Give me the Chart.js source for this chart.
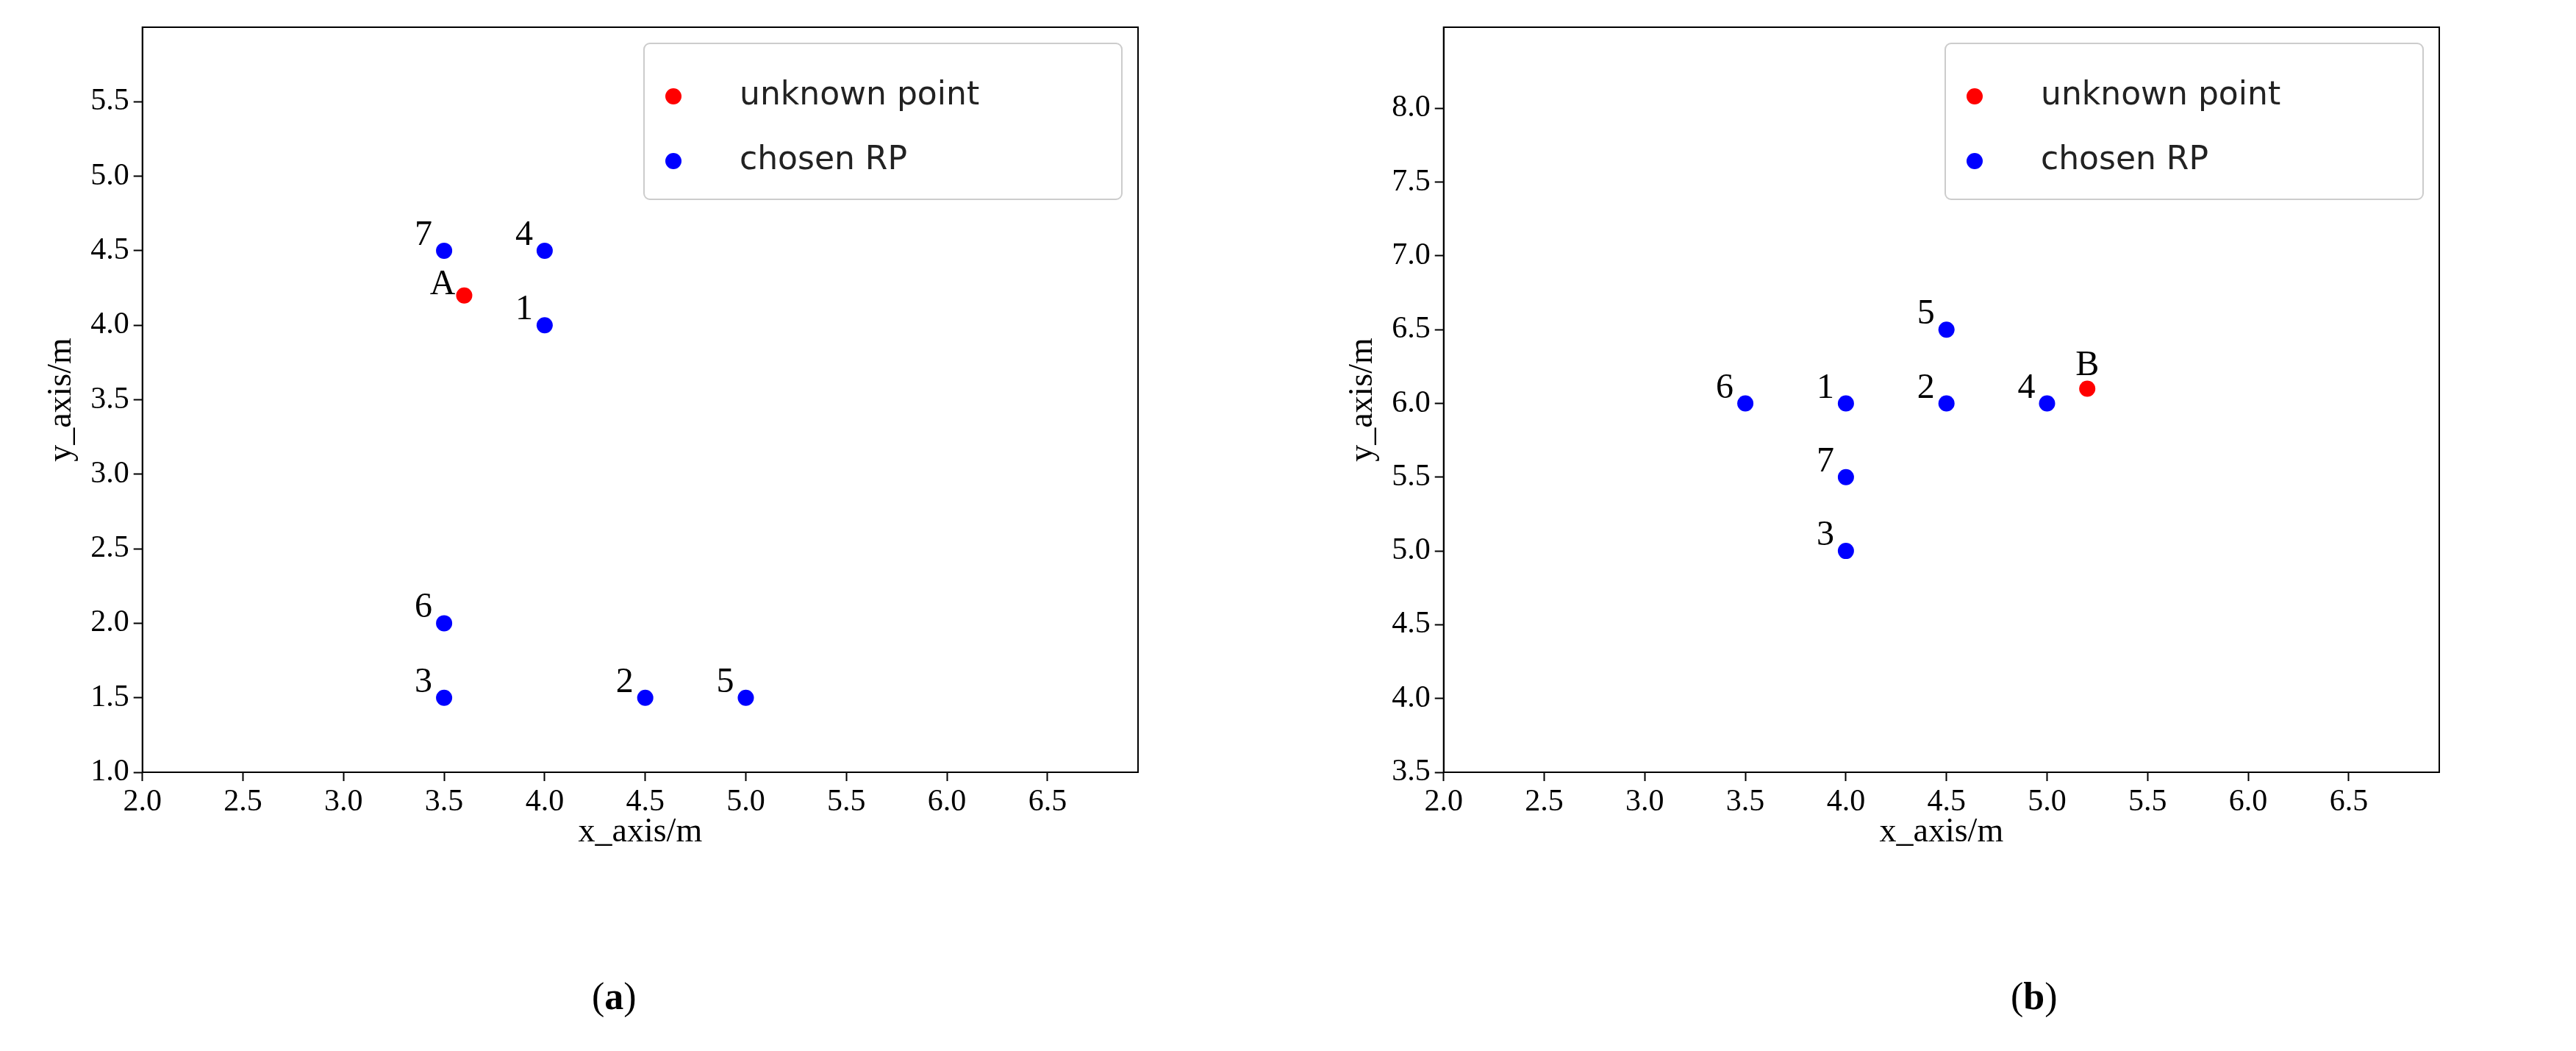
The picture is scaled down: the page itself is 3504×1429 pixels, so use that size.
<!DOCTYPE html>
<html>
<head>
<meta charset="utf-8">
<script src="https://cdn.jsdelivr.net/npm/chart.js@4.4.1/dist/chart.umd.min.js"></script>
<style>
  body { margin: 0; background: #fff; width: 3504px; height: 1429px; position: relative; overflow: hidden; }
  .panel { position: absolute; top: 0; width: 1600px; height: 1160px; }
  .cap { position: absolute; top: 1325px; font-family: "Liberation Serif", serif; font-size: 52px; color: #000; }
</style>
</head>
<body>
<div class="panel" style="left:0"><canvas id="chartA" width="1600" height="1160"></canvas></div>
<div class="panel" style="left:1770px"><canvas id="chartB" width="1600" height="1160"></canvas></div>
<div class="cap" style="left:805px">(<b>a</b>)</div>
<div class="cap" style="left:2735px">(<b>b</b>)</div>
<script>
// panel (a)
const rpAX = [4.0, 4.5, 3.5, 4.0, 5.0, 3.5, 3.5];
const rpAY = [4.0, 1.5, 1.5, 4.5, 1.5, 2.0, 4.5];
const rpALabels = ['1', '2', '3', '4', '5', '6', '7'];
const unkAX = [3.6];
const unkAY = [4.2];
const unkALabels = ['A'];
const yTicksA = [1.0, 1.5, 2.0, 2.5, 3.0, 3.5, 4.0, 4.5, 5.0, 5.5];

// panel (b)
const rpBX = [4.0, 4.5, 4.0, 5.0, 4.5, 3.5, 4.0];
const rpBY = [6.0, 6.0, 5.0, 6.0, 6.5, 6.0, 5.5];
const rpBLabels = ['1', '2', '3', '4', '5', '6', '7'];
const unkBX = [5.2];
const unkBY = [6.1];
const unkBLabels = ['B'];
const yTicksB = [3.5, 4.0, 4.5, 5.0, 5.5, 6.0, 6.5, 7.0, 7.5, 8.0];

const xTicks = [2.0, 2.5, 3.0, 3.5, 4.0, 4.5, 5.0, 5.5, 6.0, 6.5];
const legendNames = ['unknown point', 'chosen RP'];

const SERIF = '"Liberation Serif", "DejaVu Serif", serif';
const SANS = '"DejaVu Sans", sans-serif';

function pts(xs, ys) { return xs.map((x, i) => ({ x: x, y: ys[i] })); }

const pointLabels = {
  id: 'pointLabels',
  afterDatasetsDraw(chart) {
    const ctx = chart.ctx;
    ctx.save();
    ctx.font = '48px ' + SERIF;
    ctx.fillStyle = '#000';
    chart.data.datasets.forEach((ds, di) => {
      const meta = chart.getDatasetMeta(di);
      meta.data.forEach((el, i) => {
        const off = ds.labelOffset || [-16, -8, 'right'];
        ctx.textAlign = off[2];
        ctx.fillText(ds.labels[i], el.x + off[0], el.y + off[1]);
      });
    });
    ctx.restore();
  }
};

const boxLegend = {
  id: 'boxLegend',
  afterDraw(chart) {
    const ctx = chart.ctx, a = chart.chartArea;
    const w = 650, h = 212;
    const x0 = a.right - 22 - w, y0 = a.top + 22;
    ctx.save();
    ctx.strokeStyle = '#cccccc';
    ctx.lineWidth = 2;
    ctx.fillStyle = 'rgba(255,255,255,0.8)';
    ctx.beginPath();
    ctx.roundRect(x0, y0, w, h, 8);
    ctx.fill();
    ctx.stroke();
    ctx.font = '44px ' + SANS;
    ctx.textBaseline = 'middle';
    chart.data.datasets.forEach((ds, i) => {
      const cy = y0 + 72 + i * 88;
      ctx.fillStyle = ds.backgroundColor;
      ctx.beginPath();
      ctx.arc(x0 + 40, cy, 11, 0, Math.PI * 2);
      ctx.fill();
      ctx.fillStyle = '#222';
      ctx.fillText(legendNames[i], x0 + 130, cy);
    });
    ctx.restore();
  }
};

function makeChart(id, unkX, unkY, unkLabels, unkOffset, rpX, rpY, rpLabels, yMin, yMax, yTicks) {
  const tickFont = { family: SERIF, size: 42 };
  const titleFont = { family: SERIF, size: 46 };
  const grid = { display: true, drawOnChartArea: false, drawTicks: true, tickLength: 12, tickColor: '#000', tickWidth: 2 };
  new Chart(document.getElementById(id), {
    type: 'scatter',
    data: {
      datasets: [
        { data: pts(unkX, unkY), labels: unkLabels, labelOffset: unkOffset,
          backgroundColor: '#ff0000', borderWidth: 0, pointRadius: 11 },
        { data: pts(rpX, rpY), labels: rpLabels,
          backgroundColor: '#0000ff', borderWidth: 0, pointRadius: 11 }
      ]
    },
    options: {
      responsive: false,
      animation: false,
      layout: { padding: { top: 37, right: 52, left: 50, bottom: 0 } },
      plugins: { legend: { display: false }, tooltip: { enabled: false } },
      scales: {
        x: {
          type: 'linear', min: 2.0, max: 6.95,
          afterBuildTicks(s) { s.ticks = xTicks.map(v => ({ value: v })); },
          afterFit(s) { s.height = 110; },
          ticks: { font: tickFont, color: '#000', padding: 4, maxRotation: 0, callback: v => v.toFixed(1) },
          grid: grid,
          border: { color: '#000', width: 2 },
          title: { display: true, text: 'x_axis/m', font: titleFont, color: '#000', padding: 0 }
        },
        y: {
          type: 'linear', min: yMin, max: yMax,
          afterBuildTicks(s) { s.ticks = yTicks.map(v => ({ value: v })); },
          ticks: { font: tickFont, color: '#000', padding: 6, callback: v => v.toFixed(1) },
          grid: grid,
          border: { color: '#000', width: 2 },
          title: { display: true, text: 'y_axis/m', font: titleFont, color: '#000', padding: 6 }
        }
      }
    },
    plugins: [pointLabels, boxLegend, {
      id: 'frame',
      afterDraw(chart) {
        const a = chart.chartArea, ctx = chart.ctx;
        ctx.save();
        ctx.strokeStyle = '#000';
        ctx.lineWidth = 2;
        ctx.strokeRect(a.left, a.top, a.right - a.left, a.bottom - a.top);
        ctx.restore();
      }
    }]
  });
}

makeChart('chartA', unkAX, unkAY, unkALabels, [-12, -2, 'right'], rpAX, rpAY, rpALabels, 1.0, 6.0, yTicksA);
makeChart('chartB', unkBX, unkBY, unkBLabels, [0, -18, 'center'], rpBX, rpBY, rpBLabels, 3.5, 8.55, yTicksB);
</script>
</body>
</html>
